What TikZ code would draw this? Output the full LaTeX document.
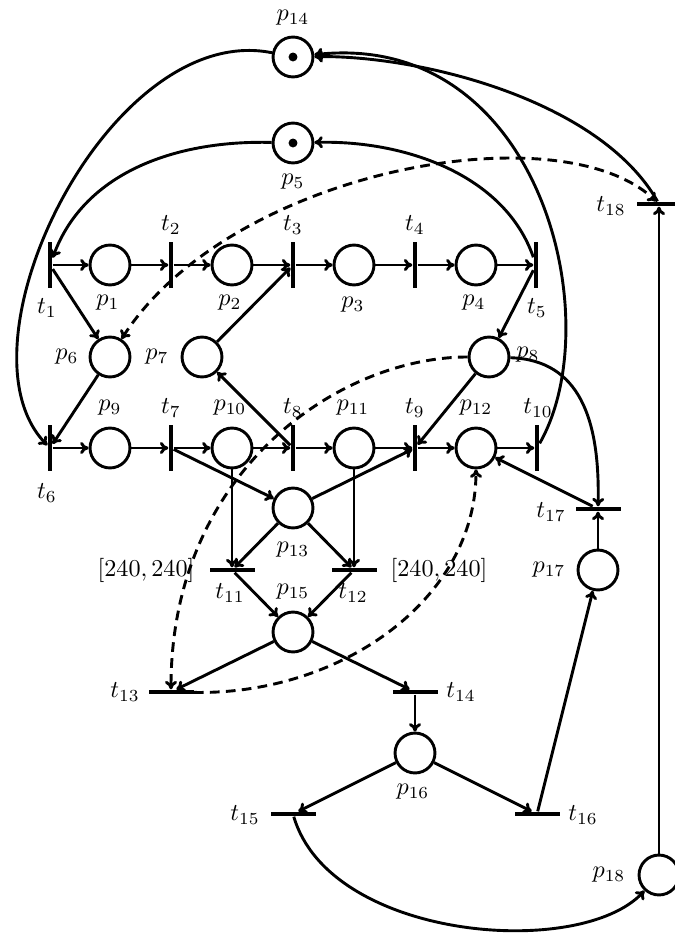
\documentclass[tikz,border=0pt]{standalone}
\usetikzlibrary{arrows.meta}
\begin{document}
\begin{tikzpicture}[x=0.4133pt,y=-0.4133pt,
  place/.style={circle,draw,line width=1.2pt,minimum size=16.5pt,inner sep=0pt},
  vbar/.style={rectangle,fill=black,minimum width=1.8pt,minimum height=18.6pt,inner sep=0pt},
  hbar/.style={rectangle,fill=black,minimum width=18.6pt,minimum height=1.8pt,inner sep=0pt},
  arc/.style={line width=1.2pt,-{To[length=3.5pt,width=5pt]}},
  darc/.style={arc,dash pattern=on 4pt off 2.6pt},
  lab/.style={inner sep=0pt},
  token/.style={circle,fill=black,minimum size=3.7pt,inner sep=0pt}
]
\clip (0,0) rectangle (675,936);

% places
\node[place] (p14) at (293,57) {};
\node[token] (tk14) at (293,57) {};
\node[place] (p5) at (293,143) {};
\node[token] (tk5) at (293,143) {};
\node[place] (p1) at (110,265) {};
\node[place] (p2) at (232,265) {};
\node[place] (p3) at (354,265) {};
\node[place] (p4) at (476,265) {};
\node[place] (p6) at (110,357) {};
\node[place] (p7) at (202,357) {};
\node[place] (p8) at (489,357) {};
\node[place] (p9) at (110,448) {};
\node[place] (p10) at (232,448) {};
\node[place] (p11) at (354,448) {};
\node[place] (p12) at (476,448) {};
\node[place] (p13) at (293,508) {};
\node[place] (p15) at (293,632) {};
\node[place] (p16) at (415,753) {};
\node[place] (p17) at (598,570) {};
\node[place] (p18) at (659,875) {};

% transitions
\node[vbar] (t1) at (50,265) {};
\node[vbar] (t2) at (171,265) {};
\node[vbar] (t3) at (293,265) {};
\node[vbar] (t4) at (415,265) {};
\node[vbar] (t5) at (536,265) {};
\node[vbar] (t6) at (50,448) {};
\node[vbar] (t7) at (171,448) {};
\node[vbar] (t8) at (293,448) {};
\node[vbar] (t9) at (415,448) {};
\node[vbar] (t10) at (537,448) {};
\node[hbar] (t11) at (232,570) {};
\node[hbar] (t12) at (354,570) {};
\node[hbar] (t13) at (171,692) {};
\node[hbar] (t14) at (415,692) {};
\node[hbar] (t15) at (293,814) {};
\node[hbar] (t16) at (537,814) {};
\node[hbar] (t17) at (598,509) {};
\node[hbar] (t18) at (659,204) {};

% labels
\node[lab] (lp14) at (293,18) {$p_{14}$};
\node[lab] (lp5) at (293,182) {$p_5$};
\node[lab] (lt18) at (611,206) {$t_{18}$};
\node[lab] (lt2) at (171,225) {$t_2$};
\node[lab] (lt3) at (293,225) {$t_3$};
\node[lab] (lt4) at (415,225) {$t_4$};
\node[lab] (lt1) at (47,308) {$t_1$};
\node[lab] (lp1) at (108,303) {$p_1$};
\node[lab] (lp2) at (230,303) {$p_2$};
\node[lab] (lp3) at (353,305) {$p_3$};
\node[lab] (lp4) at (474,303) {$p_4$};
\node[lab] (lt5) at (537,308) {$t_5$};
\node[lab] (lp6) at (67,357) {$p_6$};
\node[lab] (lp7) at (157,357) {$p_7$};
\node[lab] (lp8) at (528,355) {$p_8$};
\node[lab] (lp9) at (110,408) {$p_9$};
\node[lab] (lt7) at (171,408) {$t_7$};
\node[lab] (lp10) at (230,408) {$p_{10}$};
\node[lab] (lt8) at (293,408) {$t_8$};
\node[lab] (lp11) at (353,408) {$p_{11}$};
\node[lab] (lt9) at (415,408) {$t_9$};
\node[lab] (lp12) at (476,408) {$p_{12}$};
\node[lab] (lt10) at (538,408) {$t_{10}$};
\node[lab] (lt6) at (47,493) {$t_6$};
\node[lab] (lp13) at (293,550) {$p_{13}$};
\node[lab] (lw1) at (146,570) {$[240,240]$};
\node[lab] (lt11) at (230,593) {$t_{11}$};
\node[lab] (lp15) at (293,592) {$p_{15}$};
\node[lab] (lt12) at (353,593) {$t_{12}$};
\node[lab] (lw2) at (439,570) {$[240,240]$};
\node[lab] (lt17) at (551,512) {$t_{17}$};
\node[lab] (lp17) at (549,570) {$p_{17}$};
\node[lab] (lt13) at (125,692) {$t_{13}$};
\node[lab] (lt14) at (461,692) {$t_{14}$};
\node[lab] (lp16) at (413,792) {$p_{16}$};
\node[lab] (lt15) at (245,815) {$t_{15}$};
\node[lab] (lt16) at (583,815) {$t_{16}$};
\node[lab] (lp18) at (609,875) {$p_{18}$};

% straight arcs
\foreach \a/\b in {t1/p1,p1/t2,t2/p2,p2/t3,t3/p3,p3/t4,t4/p4,p4/t5,
  t6/p9,p9/t7,t7/p10,p10/t8,t8/p11,p11/t9,t9/p12,p12/t10,
  t1/p6,t5/p8,p6/t6,p7/t3,t8/p7,p8/t9,t7/p13,p13/t9,
  p10/t11,p11/t12,p13/t11,p13/t12,t11/p15,t12/p15,p15/t13,p15/t14,
  t14/p16,p16/t15,p16/t16,t16/p17,p17/t17,t17/p12,p18/t18}
  \draw[arc] (\a) -- (\b);

% curved arcs
\draw[arc] (p14) .. controls (110,20) and (-50,345) .. (t6);
\draw[arc] (p5) .. controls (180,140) and (85,170) .. (t1);
\draw[arc] (t5) .. controls (505,175) and (405,140) .. (p5);
\draw[arc] (t10) .. controls (610,320) and (540,30) .. (p14);
\draw[arc] (t18) .. controls (600,100) and (420,55) .. (p14);
\draw[arc] (p8) .. controls (580,360) and (600,420) .. (t17);
\draw[arc] (t15) .. controls (330,940) and (580,960) .. (p18);

% dashed arcs
\draw[darc,{To[length=3.5pt,width=5pt]}-{To[length=3.5pt,width=5pt]}] (p6) .. controls (230,170) and (560,110) .. (t18);
\draw[darc] (p8) .. controls (340,357) and (171,470) .. (t13);
\draw[darc] (t13) .. controls (340,695) and (476,600) .. (p12);
\end{tikzpicture}
\end{document}
